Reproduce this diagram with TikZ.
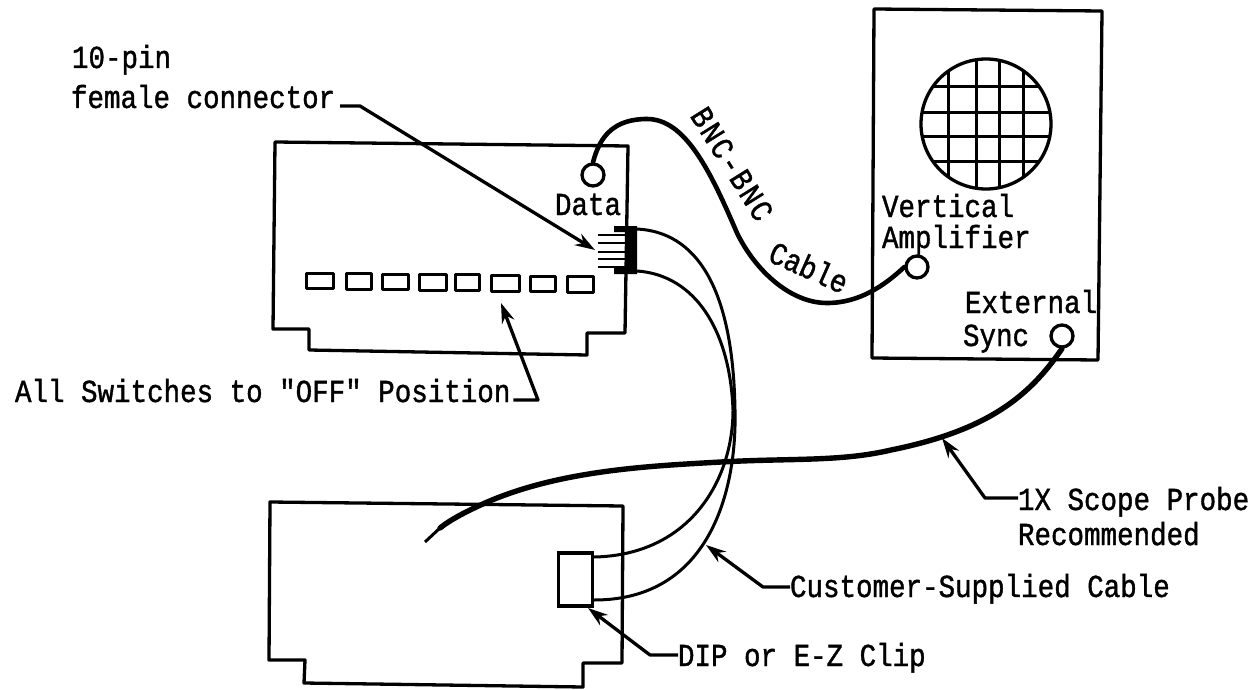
\documentclass[tikz,border=0pt]{standalone}
\usepackage{fontspec}
\setmonofont[FakeStretch=0.86,FakeBold=1.2]{Liberation Mono}
\usetikzlibrary{arrows.meta}
\tikzset{
  lbl/.style={inner sep=0pt,outer sep=0pt,anchor=base west,font=\ttfamily\fontsize{32}{32}\selectfont},
  rotlbl/.style={inner sep=0pt,outer sep=0pt,font=\ttfamily\fontsize{32}{32}\selectfont},
  board/.style={line width=3.3pt,line join=round},
  wire/.style={line width=3pt,line cap=round},
  bnc/.style={line width=4.6pt,line cap=round},
  probe/.style={line width=5.4pt,line cap=round},
  leader/.style={line width=3.3pt,line join=round,-{Stealth[length=20pt,width=13pt]}},
  jack/.style={circle,draw,line width=3.3pt,fill=white,minimum size=22pt,inner sep=0pt},
  switchbox/.style={line width=3pt,line join=round},
  grid line/.style={line width=3pt}
}
\begin{document}
\begin{tikzpicture}[x=1pt,y=-1pt]
\useasboundingbox[fill=white] (0,0) rectangle (1260,690);
% upper board
\draw[board] (275,142) -- (628,146) -- (625,333) -- (587,333) -- (587,355) -- (309,350) -- (309,329) -- (273,329) -- cycle;
% switches
\foreach \a/\b/\c/\d in {306/273/333/288,346/273/371/289,382/274/408/289,419/274/446/290,455/274/479/290,491/275/519/291,530/276/555/291,567/276/593/292}
  \draw[switchbox] (\a,\b) rectangle (\c,\d);
% lower board
\draw[board] (270,502) -- (623,506) -- (622,663) -- (583,663) -- (583,687) -- (304,683) -- (305,660) -- (269,660) -- cycle;
% scope box
\draw[board] (874,9) -- (1102,11) -- (1098,360) -- (872,358) -- cycle;
% screen
\begin{scope}
  \clip (986,124) circle (65);
  \foreach \y in {87,113,136,161} \draw[grid line] (915,\y) -- (1055,\y);
  \foreach \x in {948,976,999,1023} \draw[grid line] (\x,55) -- (\x,195);
\end{scope}
\draw[line width=3.3pt] (986,124) circle (65);
% jacks
\node[jack] (data) at (593,175) {};
\node[jack] (vamp) at (917,267) {};
\node[jack] (sync) at (1062,336) {};
% connector
\fill (614,226) -- (637,226) -- (637,274) -- (614,274) -- (614,268) -- (627,268) -- (627,232) -- (614,232) -- cycle;
\foreach \y in {235,243,252,259,267} \draw[line width=2.8pt] (598,\y) -- (628,\y);
\coordinate (conntop) at (637,229);
\coordinate (connbot) at (637,271);
% clip
\node[draw,line width=3.4pt,inner sep=0pt,minimum width=34pt,minimum height=53pt] (clip) at (575.5,579.5) {};
% customer cable
\draw[wire] (conntop) .. controls (695,232) and (733,285) .. (735,410) .. controls (737,490) and (710,600) .. (clip.east |- 0,600);
\draw[wire] (connbot) .. controls (695,275) and (730,330) .. (733,410) .. controls (733,480) and (690,555) .. (clip.east |- 0,557);
% BNC cable
\draw[bnc] (data.north) .. controls (600,135) and (615,119) .. (647,119) .. controls (685,119) and (710,170) .. (737,233) .. controls (755,270) and (790,303) .. (827,303) .. controls (860,303) and (885,285) .. (vamp.west);
% probe
\draw[probe] (sync.south) .. controls (1030,395) and (990,430) .. (891,450) .. controls (840,462) and (790,458) .. (721,462) .. controls (650,466) and (560,470) .. (485,503) .. controls (465,512) and (450,520) .. (440,528);
\coordinate (probetip) at (425,542);
\draw[line width=3pt] (440,528) -- (probetip);
% labels
\node[lbl] (pin) at (72,68) {10-pin};
\node[lbl] (fem) at (71,108) {female connector};
\node[lbl] (datal) at (555,215) {Data};
\node[lbl] (vert) at (882,217) {Vertical};
\node[lbl] (ampl) at (882,248) {Amplifier};
\node[lbl] (ext) at (965,313) {External};
\node[lbl] (syn) at (963,346) {Sync};
\node[lbl] (sw) at (15,402) {All Switches to "OFF" Position};
\node[lbl] (scope1) at (1018,510) {1X Scope Probe};
\node[lbl] (scope2) at (1018,545) {Recommended};
\node[lbl] (cust) at (790,597) {Customer-Supplied Cable};
\node[lbl] (dip) at (678,666) {DIP or E-Z Clip};
\node[rotlbl,rotate=-58] (bnctxt) at (732,164) {\addfontfeature{LetterSpace=6}BNC-BNC};
\node[rotlbl,rotate=-24] (cabletxt) at (809,267) {Cable};
% leaders
\coordinate (e1) at (360,106);
\coordinate (t1) at (595,250);
\draw[leader] (fem.east |- e1) ++(5,0) -- (e1) -- (t1);
\coordinate (e2) at (538,400);
\coordinate (t2) at (501,303);
\draw[leader] (sw.east |- e2) ++(3,0) -- (e2) -- (t2);
\coordinate (e3) at (985,498);
\coordinate (t3) at (942,438);
\draw[leader] (scope1.west |- e3) -- (e3) -- (t3);
\coordinate (e4) at (763,587);
\coordinate (t4) at (706,545);
\draw[leader] (cust.west |- e4) -- (e4) -- (t4);
\coordinate (e5) at (650,655);
\coordinate (t5) at (588,608);
\draw[leader] (dip.west |- e5) -- (e5) -- (t5);
\end{tikzpicture}
\end{document}
